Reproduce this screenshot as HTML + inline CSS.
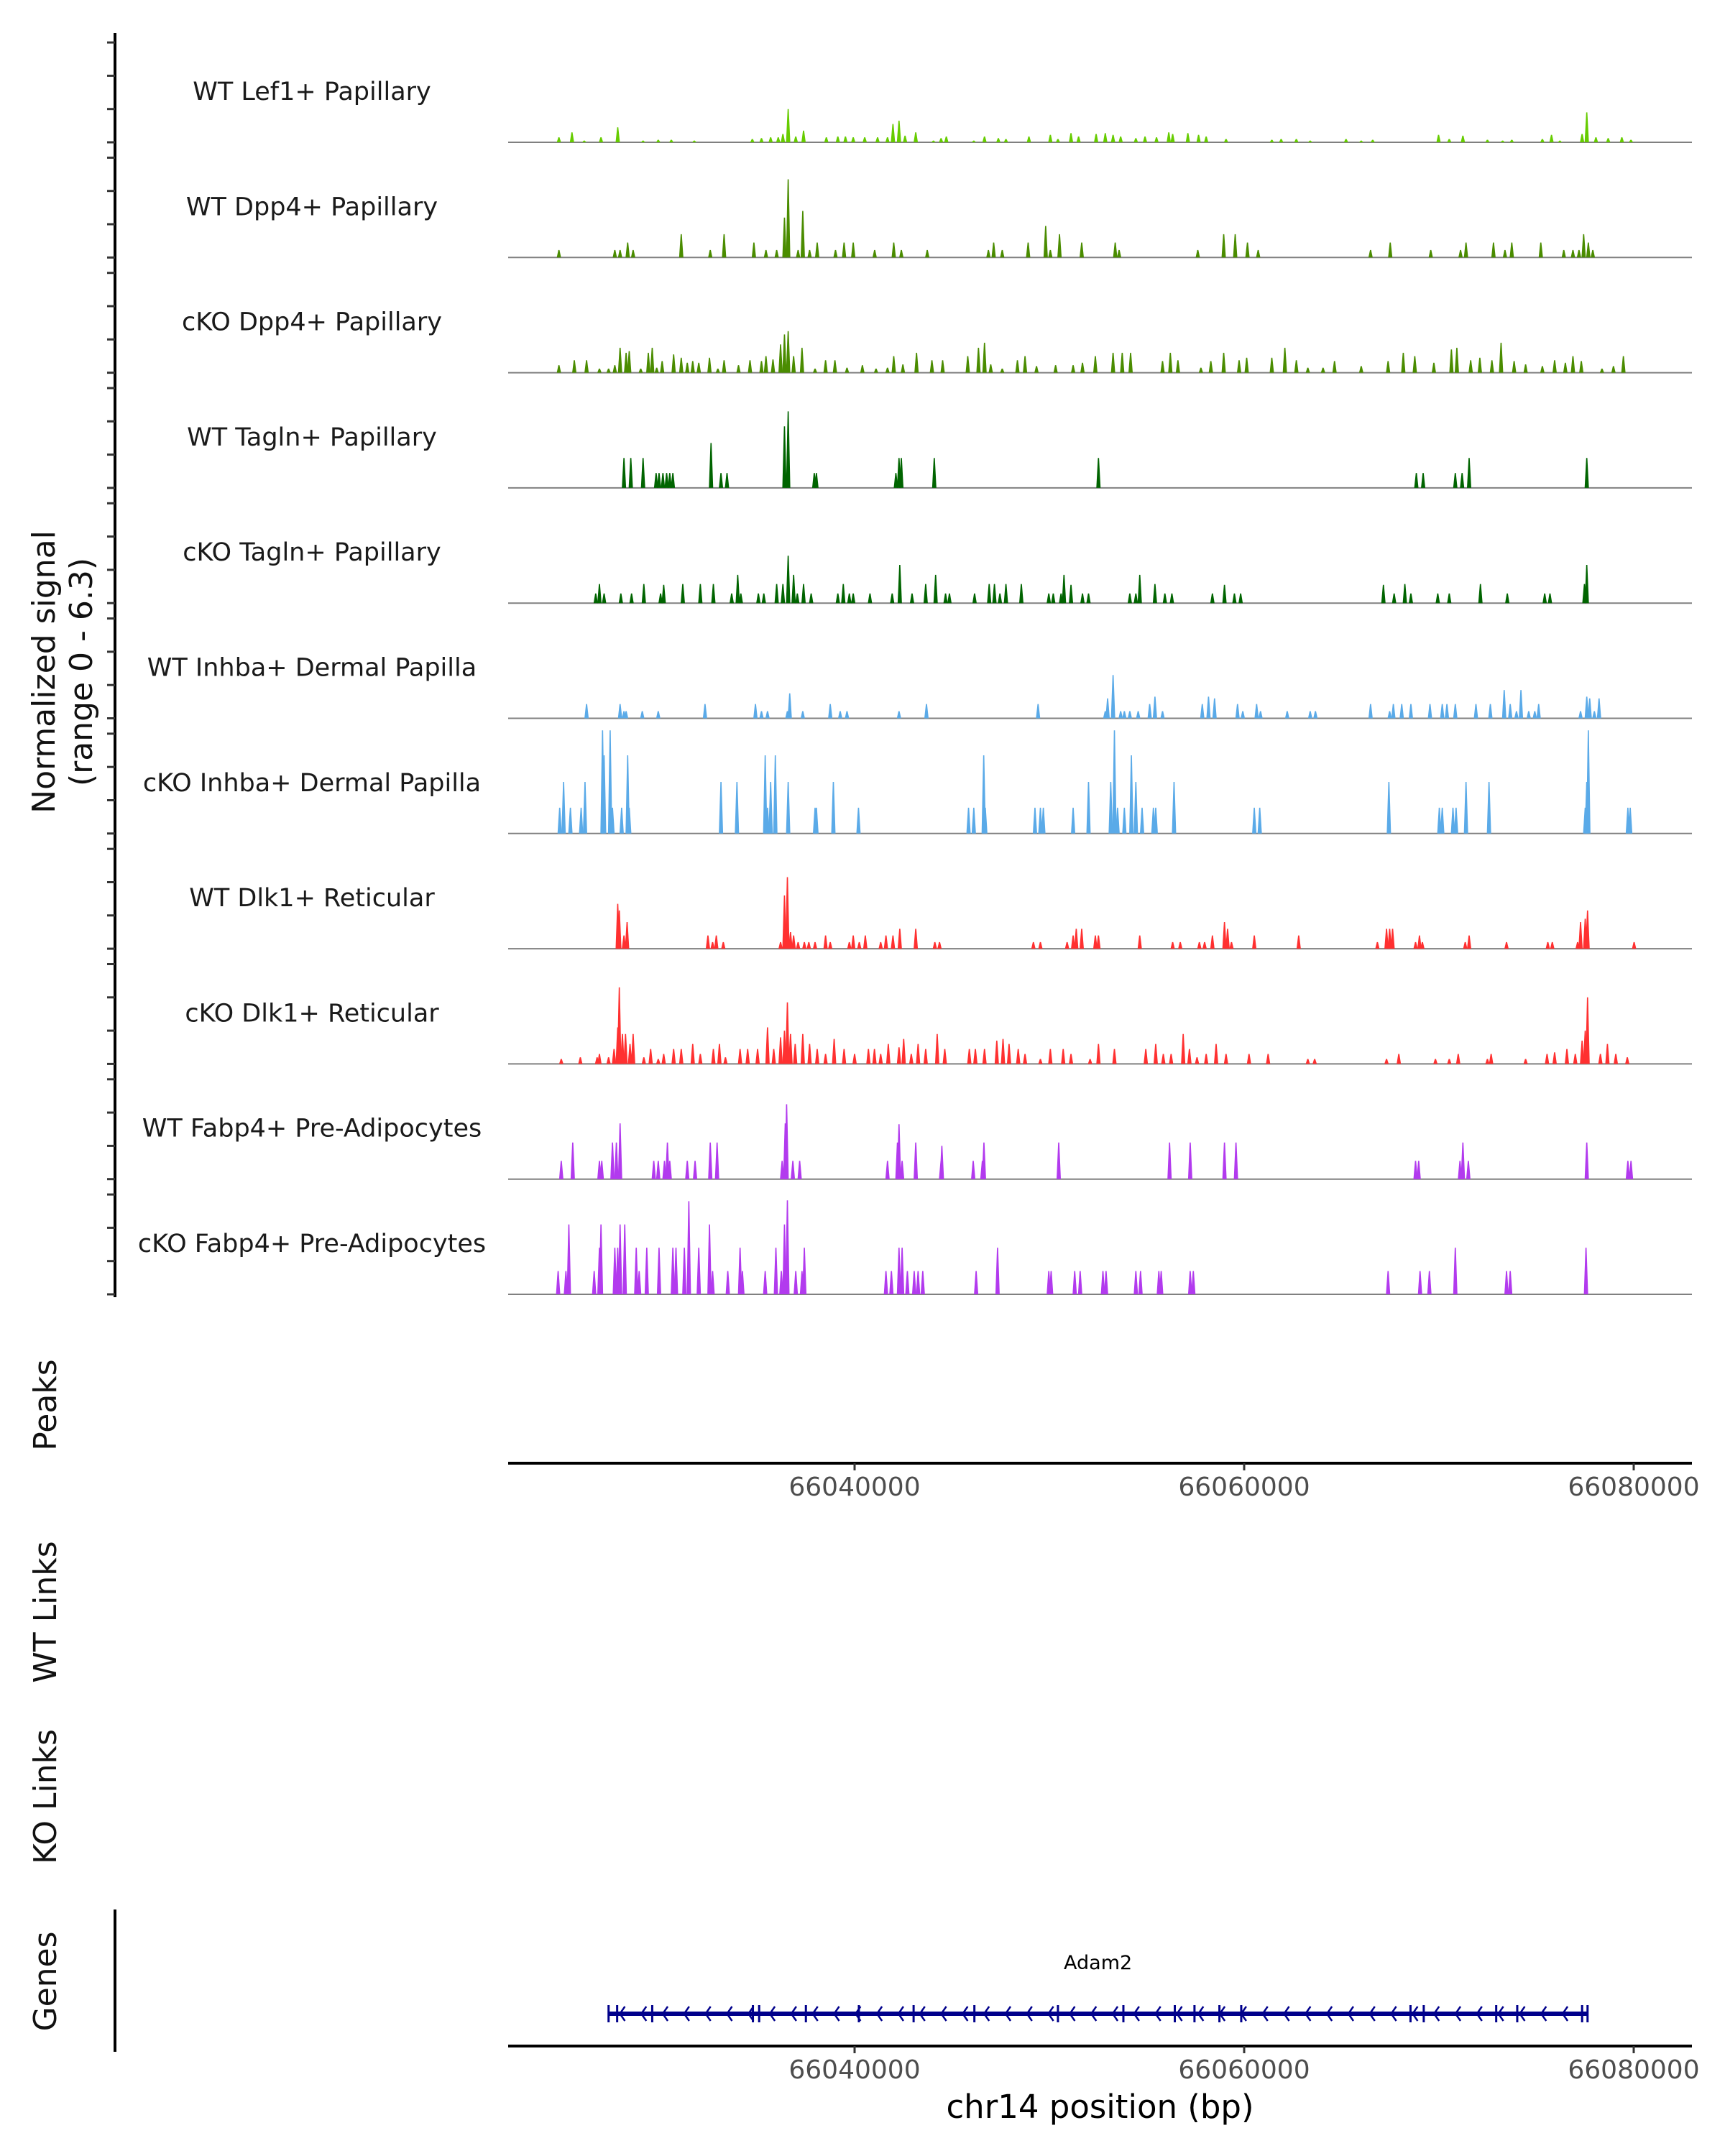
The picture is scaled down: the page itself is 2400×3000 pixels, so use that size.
<!DOCTYPE html>
<html><head><meta charset="utf-8">
<style>
html,body{margin:0;padding:0;background:#fff;}
svg{display:block;}
text{font-family:"DejaVu Sans","Liberation Sans",sans-serif;}
</style></head>
<body>
<svg id="chart" width="2400" height="3000" viewBox="0 0 2400 3000" xmlns="http://www.w3.org/2000/svg">
<rect width="2400" height="3000" fill="#fff"/>
<g id="left-labels">
<text transform="translate(76,935) rotate(-90)" text-anchor="middle" font-size="44" fill="#111">Normalized signal</text>
<text transform="translate(128,935) rotate(-90)" text-anchor="middle" font-size="44" fill="#111">(range 0 - 6.3)</text>
<text transform="translate(78,1955) rotate(-90)" text-anchor="middle" font-size="44" fill="#111">Peaks</text>
<text transform="translate(78,2243) rotate(-90)" text-anchor="middle" font-size="44" fill="#111">WT Links</text>
<text transform="translate(78,2500) rotate(-90)" text-anchor="middle" font-size="44" fill="#111">KO Links</text>
<text transform="translate(78,2757) rotate(-90)" text-anchor="middle" font-size="44" fill="#111">Genes</text>
</g>
<line x1="160" y1="46" x2="160" y2="1805" stroke="#000" stroke-width="4"/>
<line x1="160" y1="2657" x2="160" y2="2855" stroke="#000" stroke-width="4"/>
<g id="tracks"></g>
<g id="axes"></g>
<g id="gene"></g>
</svg>
<script>
const names = ["WT Lef1+ Papillary","WT Dpp4+ Papillary","cKO Dpp4+ Papillary","WT Tagln+ Papillary","cKO Tagln+ Papillary","WT Inhba+ Dermal Papilla","cKO Inhba+ Dermal Papilla","WT Dlk1+ Reticular","cKO Dlk1+ Reticular","WT Fabp4+ Pre-Adipocytes","cKO Fabp4+ Pre-Adipocytes"];
const colors = ["#66cc00","#4a8c00","#4a8c00","#006400","#006400","#5aaae8","#5aaae8","#ff3030","#ff3030","#b23aee","#b23aee"];
// positions in kb offset from 66,000,000 bp
const posLef1 = [24.82,25.49,26.12,26.98,27.84,29.14,29.92,30.59,31.77,34.75,35.22,35.69,36.08,36.32,36.59,36.98,37.38,38.55,39.14,39.53,39.93,40.52,41.18,41.69,41.97,42.28,42.59,43.14,44.05,44.44,44.71,46.12,46.67,47.38,47.77,48.95,50.05,50.44,51.11,51.50,52.40,52.87,53.27,53.66,54.44,54.91,55.50,56.13,56.33,57.11,57.66,58.05,59.07,61.42,61.90,62.68,63.39,65.23,66.01,66.60,69.98,70.53,71.23,72.49,73.27,73.74,75.31,75.78,76.21,77.35,77.59,78.06,78.69,79.39,79.86];
const valLef1 = [0.3,0.6,0.1,0.3,0.9,0.1,0.15,0.15,0.1,0.2,0.25,0.3,0.3,0.5,2.0,0.35,0.7,0.3,0.35,0.35,0.3,0.3,0.3,0.3,1.1,1.3,0.4,0.6,0.1,0.25,0.35,0.1,0.35,0.25,0.2,0.35,0.45,0.2,0.55,0.35,0.5,0.55,0.45,0.35,0.25,0.35,0.3,0.6,0.5,0.55,0.45,0.35,0.2,0.15,0.2,0.2,0.1,0.2,0.1,0.15,0.45,0.2,0.4,0.15,0.1,0.15,0.2,0.45,0.1,0.5,1.8,0.3,0.25,0.3,0.15];
const posWtDpp4 = [24.82,27.69,27.96,28.35,28.63,31.10,32.59,33.30,34.83,35.45,36.00,36.40,36.59,37.10,37.34,37.69,38.08,39.02,39.46,39.93,41.03,42.01,42.40,43.73,46.87,47.14,47.58,48.91,49.81,50.05,50.52,51.66,53.38,53.58,57.62,58.95,59.54,60.17,60.72,66.49,67.50,69.58,71.11,71.39,72.80,73.39,73.74,75.23,76.41,76.88,77.19,77.43,77.67,77.90];
const valWtDpp4 = [0.45,0.45,0.45,0.9,0.45,1.4,0.45,1.4,0.9,0.45,0.45,2.4,4.7,0.45,2.8,0.45,0.9,0.45,0.9,0.9,0.45,0.9,0.45,0.45,0.45,0.9,0.45,0.9,1.9,0.45,1.4,0.9,0.9,0.45,0.45,1.4,1.4,0.9,0.45,0.45,0.9,0.45,0.45,0.9,0.9,0.45,0.9,0.9,0.45,0.45,0.45,1.4,0.9,0.45];
const posKoDpp4 = [24.82,25.61,26.24,26.90,27.37,27.69,27.96,28.27,28.43,29.02,29.41,29.61,29.84,30.12,30.71,31.10,31.41,31.69,32.00,32.55,32.98,33.30,34.04,34.63,35.22,35.45,35.81,36.20,36.40,36.59,36.87,37.30,37.97,38.51,38.99,39.61,40.40,41.10,41.69,42.01,42.48,43.18,43.97,44.52,45.81,46.36,46.67,46.99,47.58,48.36,48.75,49.34,50.32,51.22,51.70,52.36,53.27,53.74,54.17,55.81,56.21,56.60,57.78,58.29,58.95,59.74,60.13,61.42,62.09,62.68,63.27,64.05,64.64,66.01,67.39,68.17,68.76,69.74,70.64,70.92,71.63,72.10,72.72,73.19,73.86,74.45,75.31,75.94,76.49,76.88,77.31,78.37,78.96,79.47];
const valKoDpp4 = [0.45,0.75,0.75,0.25,0.25,0.45,1.5,1.2,1.3,0.25,1.2,1.5,0.3,0.7,1.1,0.9,0.6,0.7,0.6,0.9,0.25,0.75,0.45,0.75,0.7,1.0,0.8,1.7,2.3,2.5,1.0,1.5,0.25,0.75,0.75,0.3,0.45,0.25,0.3,1.0,0.5,1.2,0.75,0.75,1.0,1.5,1.8,0.5,0.25,0.75,1.0,0.4,0.45,0.45,0.6,1.0,1.2,1.2,1.2,0.7,1.2,0.75,0.3,0.7,1.2,0.75,0.9,0.9,1.5,0.75,0.3,0.3,0.7,0.4,0.7,1.2,1.0,0.6,1.4,1.5,0.75,0.9,0.75,1.8,0.7,0.5,0.4,0.75,0.6,1.0,0.7,0.25,0.4,1.0];
const posWtTagln = [28.16,28.51,29.14,29.81,29.96,30.16,30.35,30.51,30.67,32.63,33.14,33.45,36.40,36.59,37.93,38.04,42.12,42.28,42.40,44.09,52.52,68.84,69.19,70.84,71.19,71.55,77.59];
const valWtTagln = [1.8,1.8,1.8,0.9,0.9,0.9,0.9,0.9,0.9,2.7,0.9,0.9,3.7,4.6,0.9,0.9,0.9,1.8,1.8,1.8,1.8,0.9,0.9,0.9,0.9,1.8,1.8];
const posKoTagln = [26.71,26.90,27.14,28.00,28.55,29.18,30.04,30.20,31.18,32.08,32.75,33.69,34.00,34.16,35.06,35.34,36.00,36.32,36.59,36.87,37.06,37.38,37.77,39.14,39.42,39.73,39.93,40.79,41.93,42.32,42.95,43.65,44.16,44.67,44.87,46.16,46.91,47.18,47.46,47.77,48.56,49.97,50.20,50.60,50.75,51.11,51.70,52.01,54.13,54.44,54.64,55.42,55.93,56.29,58.37,58.99,59.50,59.82,67.15,67.70,68.25,68.56,69.94,70.53,72.13,73.51,75.43,75.70,77.47,77.59];
const valKoTagln = [0.58,1.15,0.58,0.58,0.58,1.15,0.58,1.1,1.15,1.15,1.15,0.58,1.7,0.58,0.58,0.58,1.15,1.15,2.85,1.7,0.58,1.15,0.58,0.58,1.15,0.58,0.58,0.58,0.58,2.3,0.58,1.15,1.7,0.58,0.58,0.58,1.15,1.15,0.58,1.15,1.15,0.58,0.58,0.58,1.7,1.1,0.58,0.58,0.58,0.58,1.7,1.15,0.58,0.58,0.58,1.1,0.58,0.58,1.1,0.58,1.15,0.58,0.58,0.58,1.15,0.58,0.58,0.58,1.15,2.3];
const posWtInhba = [26.24,27.96,28.16,28.27,29.10,29.92,32.32,34.91,35.22,35.53,36.55,36.67,37.34,38.75,39.26,39.61,42.28,43.69,49.42,52.87,52.99,53.27,53.66,53.85,54.13,54.56,55.15,55.42,55.81,57.85,58.17,58.48,59.66,59.93,60.64,60.84,62.21,63.39,63.66,66.49,67.47,67.66,68.09,68.56,69.54,70.17,70.41,70.84,71.90,72.64,73.35,73.66,73.98,74.21,74.61,74.92,75.12,77.27,77.59,77.74,77.98,78.22];
const valWtInhba = [0.86,0.86,0.43,0.43,0.43,0.43,0.86,0.86,0.43,0.43,0.43,1.5,0.43,0.86,0.43,0.43,0.43,0.86,0.86,0.43,1.2,2.6,0.43,0.43,0.43,0.43,0.86,1.3,0.43,0.86,1.3,1.2,0.86,0.43,0.86,0.43,0.43,0.43,0.43,0.86,0.43,0.86,0.86,0.86,0.86,0.86,0.86,0.86,0.86,0.86,1.7,0.86,0.43,1.7,0.43,0.43,0.86,0.43,1.3,1.2,0.43,1.2];
const posKoInhba = [24.86,25.06,25.41,25.96,26.16,27.06,27.14,27.45,27.57,28.04,28.35,28.43,33.14,33.96,35.41,35.53,35.69,35.93,36.59,37.97,38.04,38.91,40.20,45.85,46.12,46.63,46.71,49.26,49.54,49.69,51.22,52.01,53.15,53.34,53.50,53.85,54.21,54.44,54.76,55.34,55.46,56.40,60.52,60.80,67.43,70.02,70.17,70.72,70.88,71.39,72.57,77.51,77.59,77.67,79.70,79.82];
const valKoInhba = [1.55,3.1,1.55,1.55,3.1,6.2,4.7,6.2,1.55,1.55,4.7,1.55,3.1,3.1,4.7,1.55,3.1,4.7,3.1,1.55,1.55,3.1,1.55,1.55,1.55,4.7,1.55,1.55,1.55,1.55,1.55,3.1,3.1,6.2,1.55,1.55,4.7,3.1,1.55,1.55,1.55,3.1,1.55,1.55,3.1,1.55,1.55,1.55,1.55,3.1,3.1,1.55,3.1,6.2,1.55,1.55];
const posWtDlk1 = [27.84,27.92,28.16,28.32,32.47,32.71,32.90,33.26,36.20,36.40,36.55,36.71,36.87,37.10,37.42,37.65,37.97,38.51,38.75,39.73,39.93,40.24,40.55,41.34,41.61,41.97,42.32,43.14,44.12,44.36,49.18,49.54,50.91,51.22,51.38,51.66,52.36,52.52,54.64,56.33,56.72,57.70,57.97,58.37,58.99,59.15,59.35,60.52,62.80,66.84,67.31,67.47,67.62,68.80,69.00,69.15,71.35,71.55,73.47,75.59,75.82,77.12,77.27,77.51,77.63,80.02];
const valWtDlk1 = [2.7,2.3,0.8,1.6,0.8,0.4,0.8,0.4,0.4,3.2,4.3,1.0,0.8,0.4,0.4,0.4,0.4,0.8,0.4,0.4,0.8,0.4,0.8,0.4,0.8,0.8,1.2,1.2,0.4,0.4,0.4,0.4,0.4,0.8,1.2,1.2,0.8,0.8,0.8,0.4,0.4,0.4,0.4,0.8,1.6,1.2,0.4,0.8,0.8,0.4,1.2,1.2,1.2,0.4,0.8,0.4,0.4,0.8,0.4,0.4,0.4,0.4,1.6,1.8,2.3,0.4];
const posKoDlk1 = [24.94,25.92,26.78,26.90,27.37,27.65,27.84,27.92,28.08,28.24,28.47,28.63,29.18,29.53,29.92,30.20,30.71,31.10,31.69,32.08,32.75,33.06,33.37,34.12,34.51,35.02,35.53,35.85,36.20,36.40,36.55,36.71,36.95,37.34,37.69,38.08,38.51,38.95,39.46,40.00,40.71,41.02,41.34,41.73,42.28,42.52,42.91,43.26,43.65,44.24,44.63,45.89,46.20,46.67,47.30,47.62,47.93,48.40,48.75,49.54,50.05,50.71,51.11,52.09,52.52,53.34,54.95,55.46,55.85,56.25,56.87,57.19,57.58,58.05,58.56,59.07,60.25,61.23,63.27,63.62,67.31,67.94,69.82,70.53,70.99,72.49,72.68,74.45,75.55,75.94,76.57,77.00,77.35,77.51,77.63,78.29,78.65,79.08,79.67];
const valKoDlk1 = [0.3,0.4,0.4,0.6,0.4,0.9,2.2,4.6,1.8,1.8,1.2,1.8,0.4,0.9,0.3,0.6,0.9,0.9,1.2,0.6,0.9,1.2,0.4,0.9,0.9,0.9,2.2,0.9,1.6,2.0,3.7,1.8,1.2,1.8,1.2,0.9,0.6,1.5,0.9,0.6,0.9,0.9,0.6,1.2,1.0,1.5,0.6,1.2,0.9,1.8,0.9,0.9,0.9,0.9,1.4,1.5,1.2,0.9,0.6,0.3,0.9,0.9,0.6,0.3,1.2,0.9,0.9,1.2,0.6,0.6,1.8,0.9,0.4,0.6,1.2,0.6,0.6,0.6,0.3,0.3,0.3,0.6,0.3,0.3,0.6,0.3,0.6,0.3,0.6,0.7,0.9,0.6,1.4,2.0,4.0,0.6,1.2,0.6,0.4];
const posWtFabp4 = [24.94,25.53,26.90,27.02,27.57,27.77,27.96,29.69,29.92,30.24,30.39,30.51,31.41,31.81,32.59,32.94,36.28,36.44,36.51,36.83,37.18,41.69,42.20,42.28,42.44,43.14,44.44,44.48,46.09,46.56,46.64,50.48,56.17,57.23,58.99,59.58,68.80,68.96,71.08,71.23,71.51,77.59,79.70,79.86];
const valWtFabp4 = [1.1,2.2,1.1,1.1,2.2,2.2,3.35,1.1,1.1,1.1,2.2,1.1,1.1,1.1,2.2,2.2,1.1,3.35,4.5,1.1,1.1,1.1,2.2,3.3,1.1,2.2,1.1,2.0,1.1,1.1,2.2,2.2,2.2,2.2,2.2,2.2,1.1,1.1,1.1,2.2,1.1,2.2,1.1,1.1];
const posKoFabp4 = [24.78,25.18,25.33,26.63,26.90,26.98,27.69,27.84,27.96,28.20,28.79,28.94,29.33,29.96,30.67,30.83,31.26,31.49,32.00,32.55,32.71,33.49,34.12,34.24,35.41,35.96,36.24,36.40,36.55,36.98,37.30,37.42,41.61,41.89,42.28,42.44,42.71,43.06,43.26,43.50,46.24,47.34,49.97,50.09,51.30,51.58,52.75,52.91,54.44,54.68,55.62,55.74,57.23,57.39,67.39,69.03,69.51,70.84,73.47,73.66,77.55];
const valKoFabp4 = [1.4,1.4,4.2,1.4,2.8,4.2,2.8,2.8,4.2,4.2,2.8,1.4,2.8,2.8,2.8,2.8,2.8,5.6,2.8,4.2,1.4,1.4,2.8,1.4,1.4,2.8,1.4,4.2,5.65,1.4,1.4,2.8,1.4,1.4,2.8,2.8,1.4,1.4,1.4,1.4,1.4,2.8,1.4,1.4,1.4,1.4,1.4,1.4,1.4,1.4,1.4,1.4,1.4,1.4,1.4,1.4,1.4,2.8,1.4,1.4,2.8];
const trackPos = [posLef1,posWtDpp4,posKoDpp4,posWtTagln,posKoTagln,posWtInhba,posKoInhba,posWtDlk1,posKoDlk1,posWtFabp4,posKoFabp4];
const trackVal = [valLef1,valWtDpp4,valKoDpp4,valWtTagln,valKoTagln,valWtInhba,valKoInhba,valWtDlk1,valKoDlk1,valWtFabp4,valKoFabp4];
const xTicks = [66040000,66060000,66080000];
const yTicks = [0,2,4,6];
const geneName = "Adam2";
const geneStart = 27.36, geneEnd = 77.63;
const exonPos = [27.37,27.81,29.61,34.78,35.10,37.50,40.22,43.03,46.15,50.44,53.80,56.44,57.45,58.73,59.85,68.54,69.22,72.94,74.02,77.35,77.63];

const NS = "http://www.w3.org/2000/svg";
const X0 = 707, X1 = 2354, BP0 = 66022214, BP1 = 66082989;
const xScale = bp => X0 + (bp - BP0) / (BP1 - BP0) * (X1 - X0);
const xKb = kb => xScale(66000000 + kb * 1000);
const baseY = i => 198 + i * 160.3;
const yScale = (v, i) => baseY(i) - v * 23.15;
function mk(tag, attrs, parent) {
  const el = document.createElementNS(NS, tag);
  for (const k in attrs) el.setAttribute(k, attrs[k]);
  parent.appendChild(el);
  return el;
}
const tracks = document.getElementById('tracks');
for (let i = 0; i < names.length; i++) {
  const g = mk('g', {}, tracks);
  
  
  const lbl = mk('text', {x: 434, y: baseY(i) - 59, 'text-anchor': 'middle', 'font-size': 35, fill: '#1a1a1a'}, g);
  lbl.textContent = names[i];
  
  
  for (const t of yTicks) {
    const tk = mk('line', {x1: 149, x2: 160, y1: yScale(t, i), y2: yScale(t, i), stroke: '#333', 'stroke-width': 3}, g);
    
    
  }
  const base = mk('line', {x1: X0, x2: X1, y1: baseY(i), y2: baseY(i), stroke: '#808080', 'stroke-width': 2}, g);
  
  
  const P = trackPos[i], V = trackVal[i];
  for (let j = 0; j < P.length; j++) {
    const x = xKb(P[j]), b = baseY(i), y = yScale(V[j], i);
    const sp = mk('polygon', {points: `${x-3},${b} ${x-0.8},${y} ${x+0.8},${y} ${x+3},${b}`, fill: colors[i]}, g);
    
    
  }
}
const axes = document.getElementById('axes');
function xAxis(y, withTitle) {
  const g = mk('g', {}, axes);
  
  
  mk('line', {x1: X0, x2: X1, y1: y, y2: y, stroke: '#000', 'stroke-width': 4}, g);
  for (const t of xTicks) {
    const x = xScale(t);
    mk('line', {x1: x, x2: x, y1: y, y2: y + 10, stroke: '#333', 'stroke-width': 3}, g);
    const tl = mk('text', {x: x, y: y + 45, 'text-anchor': 'middle', 'font-size': 36, fill: '#4d4d4d'}, g);
    tl.textContent = String(t);
    
    
  }
  if (withTitle) {
    const tt = mk('text', {x: (X0 + X1) / 2, y: y + 100, 'text-anchor': 'middle', 'font-size': 45, fill: '#000'}, g);
    tt.textContent = 'chr14 position (bp)';
    
    
  }
}
xAxis(2036, false);
xAxis(2847, true);
const gene = document.getElementById('gene');


const gy = 2802;
const gl = mk('text', {x: (xKb(geneStart) + xKb(geneEnd)) / 2, y: gy - 62, 'text-anchor': 'middle', 'font-size': 27, fill: '#000'}, gene);
gl.textContent = geneName;


mk('line', {x1: xKb(geneStart), x2: xKb(geneEnd), y1: gy, y2: gy, stroke: '#00008b', 'stroke-width': 6}, gene);
for (let kb = geneStart + 0.7; kb < geneEnd - 0.3; kb += 1.1) {
  const x = xKb(kb);
  mk('polyline', {points: `${x+4},${gy-10} ${x-3},${gy} ${x+4},${gy+10}`, fill: 'none', stroke: '#00008b', 'stroke-width': 2.5}, gene);
}
for (const e of exonPos) {
  const x = xKb(e);
  const ex = mk('line', {x1: x, x2: x, y1: gy - 12, y2: gy + 12, stroke: '#00008b', 'stroke-width': 3}, gene);
  
  
}
</script>
</body></html>
